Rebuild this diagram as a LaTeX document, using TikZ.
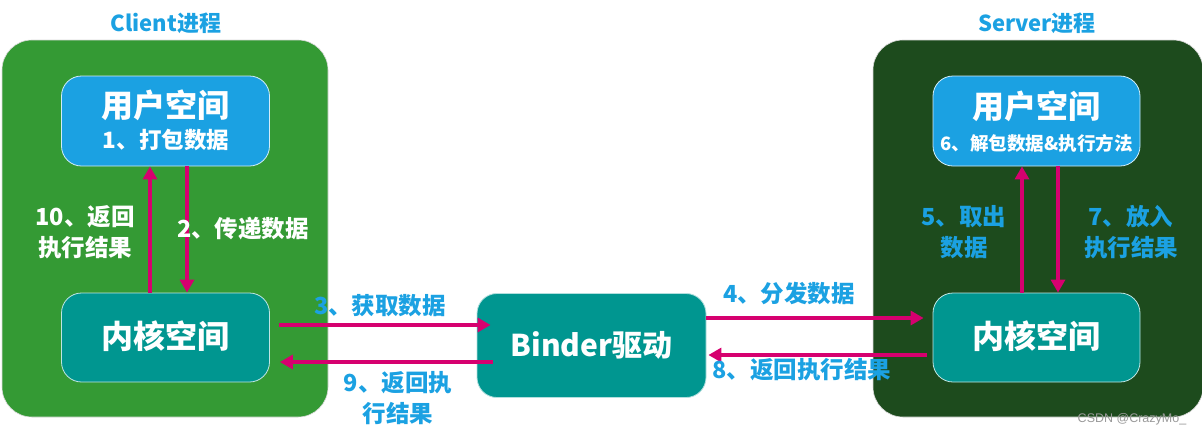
\documentclass[tikz,border=0pt]{standalone}
\usepackage{fontspec}
\setmainfont{Noto Sans CJK SC}
\newfontfamily\wmfont{Liberation Sans}
\usetikzlibrary{arrows.meta}
\definecolor{cgreen}{RGB}{52,154,52}
\definecolor{sgreen}{RGB}{29,75,29}
\definecolor{ublue}{RGB}{27,161,226}
\definecolor{kteal}{RGB}{0,150,144}
\definecolor{tblue}{RGB}{27,161,226}
\definecolor{amag}{RGB}{214,0,111}
\tikzset{
  proc/.style={rounded corners=30pt, draw=white!85!black, line width=0.6pt, inner sep=0pt},
  ubox/.style={rounded corners=20pt, draw=white!80!ublue, line width=0.8pt, fill=ublue, inner sep=0pt, minimum width=208pt, minimum height=90pt},
  kbox/.style={rounded corners=20pt, draw=white!75!kteal, line width=0.8pt, fill=kteal, inner sep=0pt, minimum width=208pt, minimum height=89pt},
  big/.style={font=\fontsize{32}{35}\selectfont\bfseries, text=white, inner sep=0pt},
  sub/.style={font=\fontsize{22.5}{26}\selectfont\bfseries, text=white, inner sep=0pt},
  lab/.style={font=\fontsize{23.5}{31}\selectfont\bfseries, align=center, inner sep=0pt},
  title/.style={font=\fontsize{22}{26}\selectfont\bfseries, text=tblue, inner sep=0pt},
  arr/.style={draw=amag, line width=3.2pt, -{Triangle[length=13pt,width=14pt]}},
}
\begin{document}
\begin{tikzpicture}[x=1pt,y=-1pt]
\useasboundingbox (0,0) rectangle (1202,437);
% process boxes
\node[proc, fill=cgreen, minimum width=326pt, minimum height=377pt] (client) at (165,228.5) {};
\node[proc, fill=sgreen, minimum width=330pt, minimum height=377pt] (server) at (1038,228.5) {};
\node[title] (ctitle) at (166,23) {Client进程};
\node[title] (stitle) at (1037,23) {Server进程};
% inner boxes
\node[ubox] (cu) at (165.5,121) {};
\node[kbox] (ck) at (165.5,337.5) {};
\node[ubox, minimum width=207pt] (su) at (1036.5,121) {};
\node[kbox, minimum width=207pt] (sk) at (1036.5,337.5) {};
\node[kbox, minimum width=229pt, minimum height=104pt, draw=white!70!kteal] (binder) at (591.5,345.5) {};
% box texts
\node[big] (cut) at (165.5,105) {用户空间};
\node[sub] (cus) at (166,140) {1、打包数据};
\node[big] (ckt) at (165.5,336) {内核空间};
\node[big] (sut) at (1036.5,106) {用户空间};
\node[font=\fontsize{18.5}{22}\selectfont\bfseries, text=white, inner sep=0pt] (sus) at (1036.5,143) {6、解包数据\&执行方法};
\node[big] (skt) at (1036.5,336) {内核空间};
\node[font=\fontsize{30}{33}\selectfont\bfseries, text=white, inner sep=0pt] (bt) at (591.5,345) {Binder驱动};
% vertical arrows
\draw[arr] ([xshift=-15.5pt]ck.north) -- ([xshift=-15.5pt]cu.south);
\draw[arr] ([xshift=21.5pt]cu.south) -- ([xshift=21.5pt]ck.north);
\draw[arr] ([xshift=-14.5pt]sk.north) -- ([xshift=-14.5pt]su.south);
\draw[arr] ([xshift=21.5pt]su.south) -- ([xshift=21.5pt]sk.north);
% horizontal arrows
\draw[arr] ([shift={(9,-12.5)}]ck.east) -- ([shift={(14,-20.5)}]binder.west);
\draw[arr] ([shift={(16,16.5)}]binder.west) -- ([shift={(10,24.5)}]ck.east);
\draw[arr] ([shift={(0,-27.5)}]binder.east) -- ([shift={(-9,-19.5)}]sk.west);
\draw[arr] ([shift={(-6,17.5)}]sk.west) -- ([shift={(2,9.5)}]binder.east);
% labels
\node[lab, text=white] (l10) at (85,232.5) {10、返回\\执行结果};
\node[lab, text=white] (l2) at (243,229) {2、传递数据};
\node[lab, text=tblue] (l5) at (964,232.5) {5、取出\\数据};
\node[lab, text=tblue] (l7) at (1131,232.5) {7、放入\\执行结果};
\node[lab, text=tblue] (l3) at (380,306) {3、获取数据};
\node[lab, text=tblue] (l9) at (398,398) {9、返回执\\行结果};
\node[lab, text=tblue] (l4) at (789,294) {4、分发数据};
\node[lab, text=tblue] (l8) at (802,370) {8、返回执行结果};
\node[font=\wmfont\fontsize{12.5}{14}\selectfont, text=black!40, inner sep=0pt] (wm) at (1132,419) {CSDN @CrazyMo\_};
\end{tikzpicture}
\end{document}
